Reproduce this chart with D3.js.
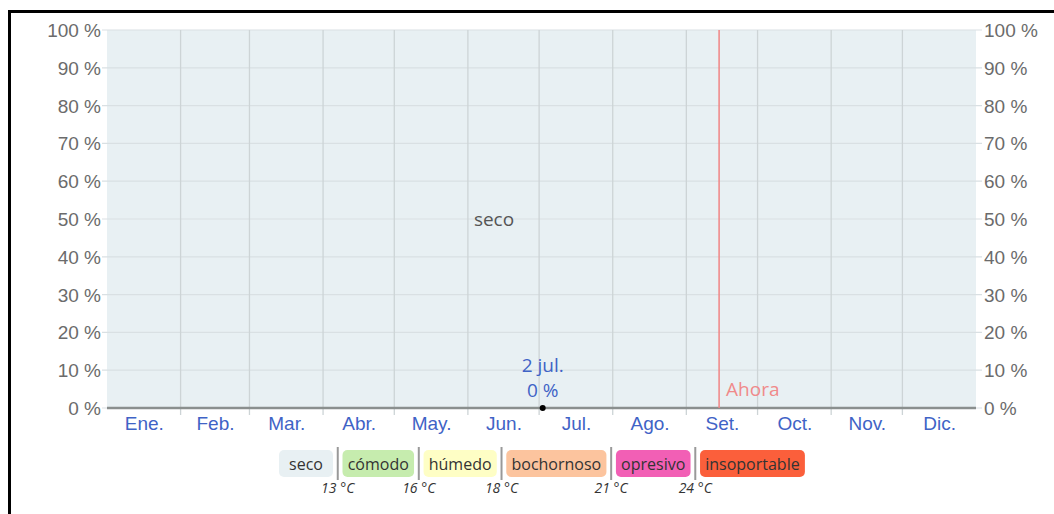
<!DOCTYPE html>
<html><head><meta charset="utf-8">
<script src="https://cdn.jsdelivr.net/npm/d3@7"></script>
<style>
html,body{margin:0;padding:0;background:#fff;}
svg{display:block;font-family:"Open Sans","Noto Sans",sans-serif;}
</style></head>
<body>
<svg id="c" width="1054" height="514"></svg>
<script>
// ---- data ----
const months = ["Ene.","Feb.","Mar.","Abr.","May.","Jun.","Jul.","Ago.","Set.","Oct.","Nov.","Dic."];
const monthDays = [31,29,31,30,31,30,31,31,30,31,30,31];
const yTicks = [0,10,20,30,40,50,60,70,80,90,100];
const categories = ["seco","cómodo","húmedo","bochornoso","opresivo","insoportable"];
const categoryColors = ["#e8f0f3","#c6ecae","#fefec5","#fcc49e","#f25fb5","#fb5f3b"];
const thresholds = ["13 °C","16 °C","18 °C","21 °C","24 °C"];
// monthly % of time in each category
const seco        = [100,100,100,100,100,100,100,100,100,100,100,100];
const comodo      = [0,0,0,0,0,0,0,0,0,0,0,0];
const humedo      = [0,0,0,0,0,0,0,0,0,0,0,0];
const bochornoso  = [0,0,0,0,0,0,0,0,0,0,0,0];
const opresivo    = [0,0,0,0,0,0,0,0,0,0,0,0];
const insoportable= [0,0,0,0,0,0,0,0,0,0,0,0];
const highlightDay = 183;  // 2 jul.
const highlightLabel = "2 jul.";
const highlightValue = 0;
const nowDay = 257.8;      // Ahora

const svg = d3.select("#c");
const W=1054,H=514;
const m = {l:107, r:W-976, t:30, b:H-408};
const totalDays = d3.sum(monthDays);
const x = d3.scaleLinear().domain([0,totalDays]).range([m.l, W-m.r]);
const y = d3.scaleLinear().domain([0,100]).range([H-m.b, m.t]);
const starts = d3.cumsum([0].concat(monthDays)).slice(0,13);

// stacked bands
const series = [seco,comodo,humedo,bochornoso,opresivo,insoportable];
const rows = d3.range(13).map(i=>{
  const o={day:starts[i]};
  categories.forEach((c,k)=>o[c]=series[k][Math.min(i,11)]);
  return o;
});
const order = categories.slice(1).reverse().concat(["seco"]);
const stack = d3.stack().keys(order)(rows);
const area = d3.area().curve(d3.curveStepAfter)
  .x(d=>x(d.data.day)).y0(d=>y(d[0])).y1(d=>y(d[1]));
svg.append("g").selectAll("path").data(stack).join("path")
  .attr("d",area)
  .attr("fill",d=>categoryColors[categories.indexOf(d.key)]);

// horizontal grid
svg.append("g").selectAll("line").data(yTicks).join("line")
  .attr("x1",m.l-5).attr("x2",W-m.r+6)
  .attr("y1",d=>y(d)).attr("y2",d=>y(d))
  .attr("stroke","#d9e0e3").attr("stroke-width",1.2);

// vertical month grid
svg.append("g").selectAll("line").data(starts.slice(1,12)).join("line")
  .attr("x1",d=>x(d)).attr("x2",d=>x(d))
  .attr("y1",m.t).attr("y2",H-m.b+7)
  .attr("stroke","#cdd4d6").attr("stroke-width",1.3);

// y axes
const yl = d3.axisLeft(y).tickValues(yTicks).tickFormat(d=>d+" %").tickSize(0).tickPadding(6);
const yr = d3.axisRight(y).tickValues(yTicks).tickFormat(d=>d+" %").tickSize(0).tickPadding(8);
const gL = svg.append("g").attr("transform",`translate(${m.l},0)`).call(yl);
const gR = svg.append("g").attr("transform",`translate(${W-m.r},0)`).call(yr);
[gL,gR].forEach(g=>{
  g.select(".domain").remove();
  g.selectAll("text").attr("fill","#6b6b6b").style("font-size","19px").attr("dy","0.34em");
});

// x axis month labels
const mids = monthDays.map((d,i)=>starts[i]+d/2);
const xa = d3.axisBottom(x).tickValues(mids).tickFormat((d,i)=>months[i]).tickSize(0).tickPadding(9);
const gX = svg.append("g").attr("transform",`translate(0,${H-m.b})`).call(xa);
gX.select(".domain").remove();
gX.selectAll("text").attr("fill","#3f63c6").style("font-size","19px");

// line of non-dry share
const nonDry = rows.map(r=>({day:r.day, v:100-r["seco"]}));
svg.append("path").datum(nonDry)
  .attr("d",d3.line().curve(d3.curveStepAfter).x(d=>x(d.day)).y(d=>y(d.v)))
  .attr("fill","none").attr("stroke","#8a8f8e").attr("stroke-width",2.5);

// seco label
svg.append("text").attr("x",x(163)).attr("y",y(50)).attr("dy","0.35em")
  .attr("text-anchor","middle").attr("fill","#555").style("font-size","19px").text("seco");

// Ahora line
svg.append("line").attr("x1",x(nowDay)).attr("x2",x(nowDay))
  .attr("y1",m.t).attr("y2",H-m.b).attr("stroke","#f08585").attr("stroke-width",1.5);
svg.append("text").attr("x",x(nowDay)+7).attr("y",y(5)).attr("dy","0.35em")
  .attr("fill","#f08a8a").style("font-size","19px").text("Ahora");

// highlight point
const hx = x(highlightDay+0.5);
svg.append("circle").attr("cx",hx).attr("cy",y(highlightValue)).attr("r",3).attr("fill","#000");
svg.append("text").attr("x",hx).attr("y",y(highlightValue)-36).attr("text-anchor","middle")
  .attr("fill","#3f63c6").style("font-size","19px").text(highlightLabel);
svg.append("text").attr("x",hx).attr("y",y(highlightValue)-11).attr("text-anchor","middle")
  .attr("fill","#3f63c6").style("font-size","19px").text(highlightValue+" %");

// legend
const legendFont = "16px";
const lg = svg.append("g");
const ctx = document.createElement("canvas").getContext("2d");
ctx.font = `${legendFont} "Open Sans"`;
const pad = 5.2, gap = 9.5, minW = 54;
const widths = categories.map(c=>Math.max(minW, ctx.measureText(c).width+pad*2));
let cx = 279;
const seps=[];
categories.forEach((c,i)=>{
  lg.append("rect").attr("x",cx).attr("y",450).attr("width",widths[i]).attr("height",27)
    .attr("rx",5).attr("fill",categoryColors[i]);
  lg.append("text").attr("x",cx+widths[i]/2).attr("y",464).attr("dy","0.35em")
    .attr("text-anchor","middle").attr("fill","#333").style("font-size",legendFont).text(c);
  cx += widths[i];
  if(i<categories.length-1){ seps.push(cx+gap/2); cx+=gap; }
});
seps.forEach((s,i)=>{
  lg.append("line").attr("x1",s).attr("x2",s).attr("y1",447).attr("y2",480)
    .attr("stroke","#999").attr("stroke-width",2);
  lg.append("text").attr("x",s).attr("y",493).attr("text-anchor","middle")
    .attr("fill","#333").style("font-size","14px").style("font-style","italic").text(thresholds[i]);
});

// frame
svg.append("line").attr("x1",8).attr("x2",W).attr("y1",11.5).attr("y2",11.5).attr("stroke","#000").attr("stroke-width",3);
svg.append("line").attr("x1",9.5).attr("x2",9.5).attr("y1",10).attr("y2",H).attr("stroke","#000").attr("stroke-width",3);
</script>
</body></html>
